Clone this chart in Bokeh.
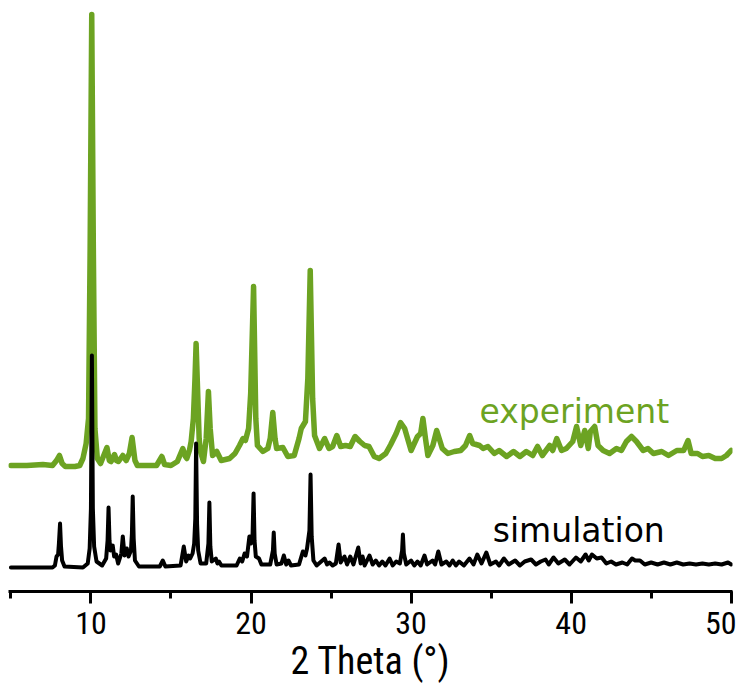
from bokeh.plotting import figure
from bokeh.models import Range1d, SingleIntervalTicker
from bokeh.core.properties import value
from bokeh.embed import file_html
from bokeh.resources import INLINE

# ---- simulated pattern: 2theta (deg) and intensity (a.u.) ----
sim_2theta = [5.0, 7.6, 7.75, 7.85, 7.95, 8.0, 8.07, 8.13, 8.2, 8.35, 9.5, 9.8, 9.92, 10.0, 10.06,
              10.12, 10.2, 10.35, 10.7, 10.95, 11.04, 11.1, 11.16, 11.22, 11.3, 11.36, 11.45, 11.57,
              11.7, 11.9, 11.99, 12.1, 12.24, 12.35, 12.5, 12.56, 12.61, 12.67, 12.75, 13.0, 14.3,
              14.49, 14.65, 15.6, 15.8, 15.95, 16.1, 16.2, 16.35, 16.45, 16.52, 16.57, 16.63, 16.7,
              16.85, 17.2, 17.34, 17.4, 17.46, 17.55, 17.8, 17.9, 18.0, 18.15, 19.1, 19.3, 19.45,
              19.6, 19.75, 19.9, 20.0, 20.1, 20.16, 20.22, 20.3, 20.5, 20.65, 21.2, 21.37, 21.42,
              21.48, 21.6, 21.9, 22.05, 22.2, 22.34, 22.5, 23.0, 23.24, 23.4, 23.5, 23.65, 23.72,
              23.79, 23.9, 24.1, 24.6, 24.75, 24.9, 25.1, 25.3, 25.47, 25.6, 25.84, 26.0, 26.2,
              26.4, 26.7, 26.85, 26.97, 27.1, 27.4, 27.6, 27.8, 28.0, 28.2, 28.4, 28.66, 28.85,
              29.07, 29.3, 29.44, 29.49, 29.55, 29.7, 30.0, 30.2, 30.4, 30.6, 30.84, 31.0, 31.34,
              31.5, 31.7, 31.9, 32.2, 32.4, 32.6, 32.8, 33.0, 33.3, 33.65, 33.9, 34.14, 34.4, 34.7,
              34.95, 35.3, 35.5, 35.8, 36.1, 36.5, 36.8, 37.1, 37.5, 37.8, 38.1, 38.4, 38.6, 38.9,
              39.2, 39.6, 39.9, 40.3, 40.6, 40.9, 41.1, 41.3, 41.6, 41.9, 42.2, 42.5, 42.8, 43.2,
              43.5, 43.8, 44.0, 44.3, 44.6, 45.0, 45.4, 45.8, 46.2, 46.6, 47.0, 47.4, 47.8, 48.2,
              48.6, 49.0, 49.4, 49.8, 50.0]
sim_int = [1, 1, 3, 12, 14, 25, 45, 22, 8, 2, 1, 5, 20, 60, 213,
           60, 22, 7, 3, 10, 28, 61, 28, 18, 22, 23, 12, 14,
           5, 15, 32, 13, 20, 12, 18, 35, 72, 30, 8, 2, 2,
           8, 2, 3, 22, 7, 13, 10, 15, 25, 50, 125, 45, 18,
           5, 5, 25, 66, 22, 7, 10, 5, 7, 3, 3, 10, 7,
           15, 12, 32, 25, 35, 75, 28, 12, 10, 4, 4, 18, 36,
           15, 4, 5, 13, 4, 8, 3, 4, 17, 13, 20, 38, 94,
           32, 8, 3, 10, 4, 6, 3, 5, 24, 6, 12, 4, 12,
           4, 21, 5, 12, 3, 13, 4, 8, 3, 7, 3, 10, 3,
           7, 5, 18, 34, 15, 4, 8, 3, 7, 3, 13, 4, 8,
           4, 17, 4, 7, 3, 8, 3, 7, 3, 10, 4, 14, 5, 16,
           4, 7, 3, 10, 4, 8, 3, 7, 9, 4, 7, 9, 4, 11,
           5, 9, 4, 11, 7, 14, 8, 14, 10, 11, 5, 7, 4, 6,
           4, 10, 8, 8, 4, 6, 4, 6, 4, 6, 4, 5, 4, 5,
           4, 5, 4, 6, 4]

# ---- experimental pattern: 2theta (deg) and intensity (a.u.) ----
exp_2theta = [5.0, 6.0, 7.0, 7.6, 7.85, 8.03, 8.2, 8.4, 9.0, 9.3, 9.5, 9.7, 9.85, 9.95, 10.05,
              10.15, 10.25, 10.4, 10.6, 10.85, 11.0, 11.15, 11.26, 11.47, 11.6, 11.72, 11.99,
              12.2, 12.4, 12.57, 12.75, 12.9, 14.1, 14.43, 14.6, 15.0, 15.4, 15.74, 15.9, 15.99,
              16.15, 16.26, 16.4, 16.5, 16.57, 16.66, 16.76, 16.84, 17.03, 17.2, 17.34, 17.45,
              17.6, 17.86, 18.14, 18.66, 19.0, 19.28, 19.5, 19.65, 19.85, 19.98, 20.16, 20.3,
              20.4, 20.74, 21.05, 21.2, 21.36, 21.5, 21.6, 21.99, 22.3, 22.7, 23.0, 23.14, 23.4,
              23.55, 23.7, 23.85, 23.97, 24.28, 24.6, 24.87, 25.1, 25.36, 25.6, 25.9, 26.2, 26.5,
              26.8, 27.1, 27.37, 27.7, 28.0, 28.42, 28.73, 29.07, 29.34, 29.6, 30.0, 30.4, 30.6,
              30.74, 30.9, 31.05, 31.36, 31.6, 31.95, 32.3, 32.7, 33.1, 33.4, 33.66, 33.85, 34.28,
              34.5, 34.8, 35.2, 35.5, 35.97, 36.4, 36.8, 37.2, 37.6, 37.9, 38.2, 38.66, 38.85,
              39.1, 39.4, 39.7, 40.1, 40.34, 40.6, 40.85, 41.07, 41.2, 41.47, 41.68, 42.0, 42.4,
              42.83, 43.14, 43.45, 43.77, 44.08, 44.5, 44.8, 45.14, 45.66, 46.08, 46.6, 47.03,
              47.3, 47.5, 47.9, 48.2, 48.6, 49.0, 49.4, 49.7, 50.0]
exp_int = [0, 0, 1, 0, 5, 10, 2, -1, -1, 0, 7, 22, 47, 217, 451,
           217, 37, 7, 2, 12, 18, 5, 4, 11, 5, 4, 10,
           5, 12, 28, 5, 0, 0, 9, 1, 0, 4, 17, 9, 7,
           15, 24, 47, 87, 122, 77, 27, 14, 4, 27, 74, 37,
           10, 14, 5, 7, 12, 20, 27, 25, 37, 72, 179, 47,
           20, 14, 17, 27, 53, 27, 17, 18, 9, 10, 27, 37, 44,
           87, 195, 67, 30, 17, 27, 17, 19, 30, 19, 20, 19, 29,
           24, 20, 19, 9, 7, 12, 21, 32, 43, 37, 15, 29, 32,
           47, 27, 10, 20, 35, 17, 12, 14, 15, 20, 30, 22, 20,
           17, 19, 12, 15, 9, 14, 9, 14, 10, 19, 10, 20, 15,
           27, 15, 17, 24, 39, 20, 35, 17, 34, 39, 20, 15, 12,
           17, 15, 24, 29, 24, 15, 17, 12, 14, 10, 15, 15,
           25, 12, 12, 9, 10, 7, 7, 10, 15]

assert len(sim_2theta) == len(sim_int)
assert len(exp_2theta) == len(exp_int)

# vertical stacking offsets (a.u.)
sim_offset = 23
exp_offset = 126

# series labels
labels = ["experiment", "simulation"]
label_x = [34.28, 35.1]
label_y = [180, 61]

GREEN = "#6ca322"
TICK_FONT = "Liberation Sans Narrow, Arial Narrow, Roboto Condensed, DejaVu Sans Condensed, sans-serif"

p = figure(frame_width=724, frame_height=585,
           x_range=Range1d(4.85, 50.08), y_range=Range1d(0, 585),
           output_backend="svg", toolbar_location=None,
           y_axis_location=None,
           min_border_left=8, min_border_right=4, min_border_top=6, min_border_bottom=2)
p.grid.visible = False
p.outline_line_color = None
p.background_fill_color = "white"
p.border_fill_color = "white"

exp_y = [v + exp_offset for v in exp_int]
sim_y = [v + sim_offset for v in sim_int]

p.line(exp_2theta, exp_y, line_color=GREEN, line_width=5.5, line_join="round", line_cap="round")
p.line(sim_2theta, sim_y, line_color="black", line_width=4, line_join="round", line_cap="round")

p.text(x=[label_x[0]], y=[label_y[0]], text=[labels[0]], text_font=value("DejaVu Sans"),
       text_font_size="33px", text_color=GREEN, text_baseline="alphabetic", text_align="left")
p.text(x=[label_x[1]], y=[label_y[1]], text=[labels[1]], text_font=value("DejaVu Sans"),
       text_font_size="33px", text_color="black", text_baseline="alphabetic", text_align="left")

ax = p.xaxis[0]
ax.ticker = SingleIntervalTicker(interval=10, num_minor_ticks=2)
ax.axis_line_width = 3
ax.axis_line_color = "black"
ax.major_tick_line_width = 3
ax.major_tick_line_color = "black"
ax.major_tick_out = 12
ax.major_tick_in = 0
ax.minor_tick_line_width = 3
ax.minor_tick_line_color = "black"
ax.minor_tick_out = 7
ax.minor_tick_in = 0
ax.major_label_text_font = TICK_FONT
ax.major_label_text_font_size = "32px"
ax.major_label_text_color = "black"
ax.major_label_standoff = 8
ax.axis_label = "2 Theta (°)"
ax.axis_label_text_font = TICK_FONT
ax.axis_label_text_font_size = "38px"
ax.axis_label_text_font_style = "normal"
ax.axis_label_text_color = "black"
ax.axis_label_standoff = 2

open("out.html", "w").write(file_html(p, INLINE))
